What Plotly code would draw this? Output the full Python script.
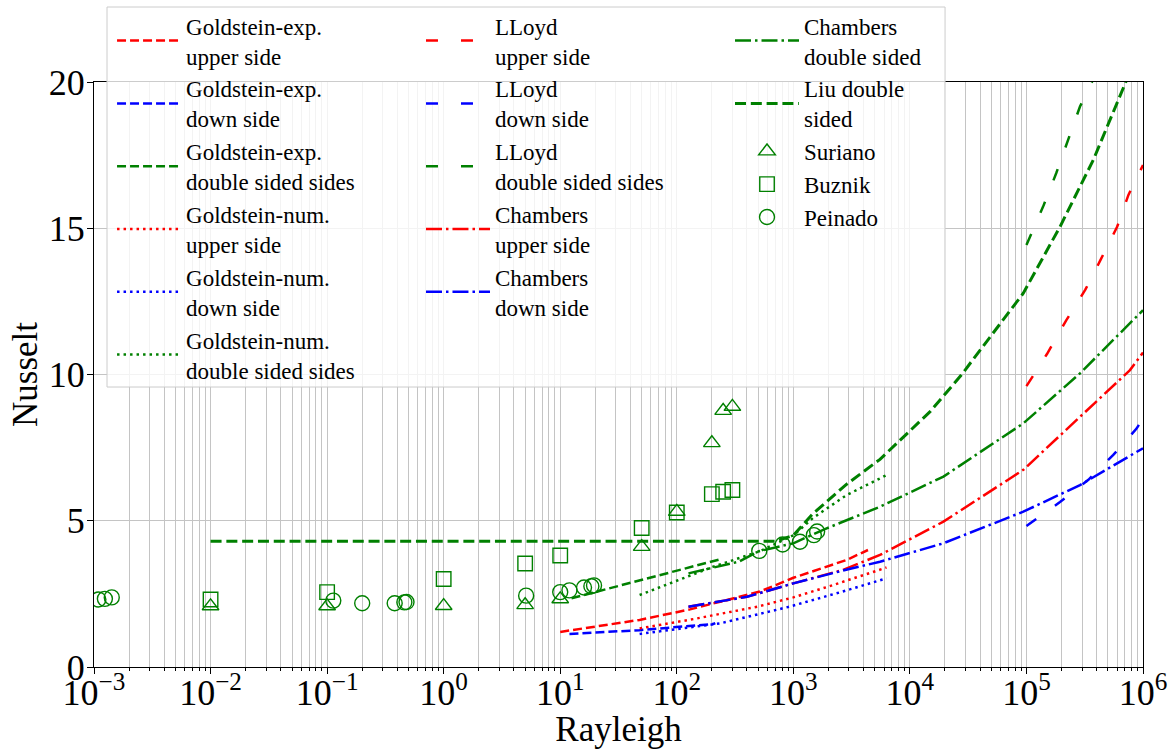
import plotly.graph_objects as go

# ---------------- data ----------------
# Goldstein experimental correlations
gexp_up_ra = [10, 48, 130, 517, 1000, 2860, 4370]
gexp_up_nu = [1.2, 1.61, 1.97, 2.58, 3.05, 3.66, 4.0]
gexp_dn_ra = [12, 48, 206, 214]
gexp_dn_nu = [1.13, 1.26, 1.47, 1.5]
gexp_db_ra = [12.5, 48, 100, 235]
gexp_db_nu = [2.35, 2.95, 3.3, 3.68]

# Goldstein numerical
gnum_up_ra = [48, 140, 500, 1000, 2000, 6300]
gnum_up_nu = [1.32, 1.64, 2.07, 2.38, 2.75, 3.4]
gnum_dn_ra = [48, 235, 900, 2500, 6300]
gnum_dn_nu = [1.13, 1.49, 2.05, 2.55, 3.03]
gnum_db_ra = [48, 206, 510, 1000, 1480, 2870, 6300]
gnum_db_nu = [2.46, 3.43, 3.95, 4.5, 5.1, 5.88, 6.56]

# Lloyd
lloyd_up_ra = [1e5, 1.5e5, 2.2e5, 3.2e5, 4.3e5, 6e5, 7.5e5, 1e6]
lloyd_up_nu = [9.6, 10.7, 11.86, 12.9, 13.9, 15.05, 16.14, 17.16]
lloyd_dn_ra = [1e5, 1.94e5, 3.4e5, 5.56e5, 8.8e5, 1e6]
lloyd_dn_nu = [4.82, 5.64, 6.4, 7.25, 8.15, 8.5]
lloyd_db_ra = [1e5, 1.39e5, 1.8e5, 2.26e5, 2.88e5, 3.8e5]
lloyd_db_nu = [14.43, 15.74, 16.88, 17.96, 19.16, 20.15]

# Chambers
ch_up_ra = [126, 400, 1000, 2670, 5540, 19400, 94000, 288000, 773000, 1e6]
ch_up_nu = [2.06, 2.4, 2.86, 3.32, 3.83, 4.97, 6.74, 8.56, 10.15, 10.75]
ch_dn_ra = [126, 400, 1000, 2670, 5540, 19400, 94000, 288000, 1e6]
ch_dn_nu = [2.06, 2.4, 2.86, 3.3, 3.6, 4.23, 5.31, 6.22, 7.48]
ch_db_ra = [126, 340, 500, 1000, 1930, 5540, 19400, 94000, 288000, 1e6]
ch_db_nu = [3.2, 3.6, 3.95, 4.23, 4.74, 5.48, 6.51, 8.33, 10.04, 12.2]

# Liu
liu_ra = [0.01, 700, 1000, 1480, 2870, 5540, 14900, 27600, 94000, 194000, 374000, 724000, 800000]
liu_nu = [4.3, 4.3, 4.5, 5.25, 6.25, 7.1, 8.73, 9.98, 12.78, 15.05, 17.33, 20.07, 20.6]

# Experimental points
suriano_ra = [0.01, 0.1, 1, 5, 10, 50, 100, 200, 250, 300]
suriano_nu = [2.08, 2.08, 2.09, 2.12, 2.32, 4.11, 5.31, 7.66, 8.76, 8.9]
buznik_ra = [0.01, 0.1, 1, 5, 10, 50, 100, 200, 250, 300]
buznik_nu = [2.31, 2.56, 3.01, 3.54, 3.81, 4.75, 5.28, 5.91, 5.99, 6.05]
peinado_ra = [0.00109, 0.00124, 0.00142, 0.113, 0.2, 0.38, 0.46, 0.48,
              5.1, 10, 12, 16, 18.5, 19.5, 510, 810, 1140, 1500, 1600]
peinado_nu = [2.31, 2.33, 2.38, 2.27, 2.18, 2.18, 2.21, 2.22,
              2.44, 2.56, 2.62, 2.72, 2.76, 2.79, 3.97, 4.19, 4.28, 4.51, 4.63]

# axis ticks
x_tickvals = [1e-3, 1e-2, 1e-1, 1e0, 1e1, 1e2, 1e3, 1e4, 1e5, 1e6]
x_ticktext = ["10<sup>\u22123</sup>", "10<sup>\u22122</sup>", "10<sup>\u22121</sup>",
              "10<sup>0</sup>", "10<sup>1</sup>", "10<sup>2</sup>", "10<sup>3</sup>",
              "10<sup>4</sup>", "10<sup>5</sup>", "10<sup>6</sup>"]
y_tickvals = [0, 5, 10, 15, 20]

# ---------------- styling ----------------
RED, BLUE, GREEN = "#ff0000", "#0000ff", "#008000"
LW = 2.5
DASH = "9px,4px"
DOT = "2.5px,4px"
LOOSE = "12px,23px"
DASHDOT = "16px,4px,2.5px,4px"
LIU = "11px,4.8px"
FONT = "Liberation Serif"

fig = go.Figure()


def add_line(x, y, name, color, dash, legend, width=LW):
    fig.add_trace(go.Scatter(x=x, y=y, mode="lines", name=name, legend=legend,
                             line=dict(color=color, width=width, dash=dash)))


add_line(gexp_up_ra, gexp_up_nu, "Goldstein-exp.<br>upper side", RED, DASH, "legend")
add_line(gexp_dn_ra, gexp_dn_nu, "Goldstein-exp.<br>down side", BLUE, DASH, "legend")
add_line(gexp_db_ra, gexp_db_nu, "Goldstein-exp.<br>double sided sides", GREEN, DASH, "legend")
add_line(gnum_up_ra, gnum_up_nu, "Goldstein-num.<br>upper side", RED, DOT, "legend")
add_line(gnum_dn_ra, gnum_dn_nu, "Goldstein-num.<br>down side", BLUE, DOT, "legend")
add_line(gnum_db_ra, gnum_db_nu, "Goldstein-num.<br>double sided sides", GREEN, DOT, "legend")

add_line(lloyd_up_ra, lloyd_up_nu, "LLoyd<br>upper side", RED, LOOSE, "legend2")
add_line(lloyd_dn_ra, lloyd_dn_nu, "LLoyd<br>down side", BLUE, LOOSE, "legend2")
add_line(lloyd_db_ra, lloyd_db_nu, "LLoyd<br>double sided sides", GREEN, LOOSE, "legend2")
add_line(ch_up_ra, ch_up_nu, "Chambers<br>upper side", RED, DASHDOT, "legend2")
add_line(ch_dn_ra, ch_dn_nu, "Chambers<br>down side", BLUE, DASHDOT, "legend2")

add_line(ch_db_ra, ch_db_nu, "Chambers<br>double sided", GREEN, DASHDOT, "legend3")
add_line(liu_ra, liu_nu, "Liu double<br>sided", GREEN, LIU, "legend3", width=3)


def add_markers(x, y, name, symbol, size):
    fig.add_trace(go.Scatter(x=x, y=y, mode="markers", name=name, legend="legend3",
                             marker=dict(symbol=symbol, size=size, color=GREEN,
                                         line=dict(color=GREEN, width=1.4))))


add_markers(suriano_ra, suriano_nu, "Suriano", "triangle-up-open", 14.5)
add_markers(buznik_ra, buznik_nu, "Buznik", "square-open", 14.5)
add_markers(peinado_ra, peinado_nu, "Peinado", "circle-open", 15)

legend_common = dict(font=dict(family=FONT, size=23, color="black"),
                     bgcolor="rgba(0,0,0,0)", borderwidth=0, itemwidth=64,
                     xanchor="left", yanchor="top", traceorder="normal",
                     maxheight=700)

GRID = "#c4c4c4"
fig.update_layout(
    width=1173, height=749,
    margin=dict(l=94, r=30, t=82, b=82, autoexpand=False),
    paper_bgcolor="white", plot_bgcolor="white",
    font=dict(family=FONT, color="black"),
    showlegend=True,
    legend=dict(x=0.0172, y=1.133, **legend_common),
    legend2=dict(x=0.3117, y=1.133, **legend_common),
    legend3=dict(x=0.6063, y=1.133, **legend_common),
    xaxis=dict(type="log", range=[-3, 6], tickvals=x_tickvals, ticktext=x_ticktext,
               showline=True, linecolor="black", linewidth=1.2, mirror=True,
               ticks="outside", ticklen=6, tickcolor="black", ticklabelstandoff=-12,
               showgrid=True, gridcolor=GRID, gridwidth=1,
               minor=dict(dtick="D1", ticks="outside", ticklen=3, tickcolor="black",
                          showgrid=True, gridcolor=GRID, gridwidth=1),
               tickfont=dict(family=FONT, size=36, color="black"),
               title=dict(text="Rayleigh", font=dict(family=FONT, size=35, color="black"),
                          standoff=0),
               zeroline=False, automargin=False),
    yaxis=dict(range=[0, 20], tickvals=y_tickvals,
               showline=True, linecolor="black", linewidth=1.2, mirror=True,
               ticks="outside", ticklen=6, tickcolor="black", ticklabelstandoff=-5,
               showgrid=True, gridcolor=GRID, gridwidth=1,
               tickfont=dict(family=FONT, size=36, color="black"),
               title=dict(text="Nusselt", font=dict(family=FONT, size=35, color="black"),
                          standoff=0),
               zeroline=False, automargin=False),
    shapes=[dict(type="rect", xref="paper", yref="paper",
                 x0=0.0124, x1=0.8113, y0=0.4786, y1=1.1282,
                 fillcolor="rgba(255,255,255,0.8)",
                 line=dict(color="#cccccc", width=1), layer="above")],
)

fig.write_html("out.html")
